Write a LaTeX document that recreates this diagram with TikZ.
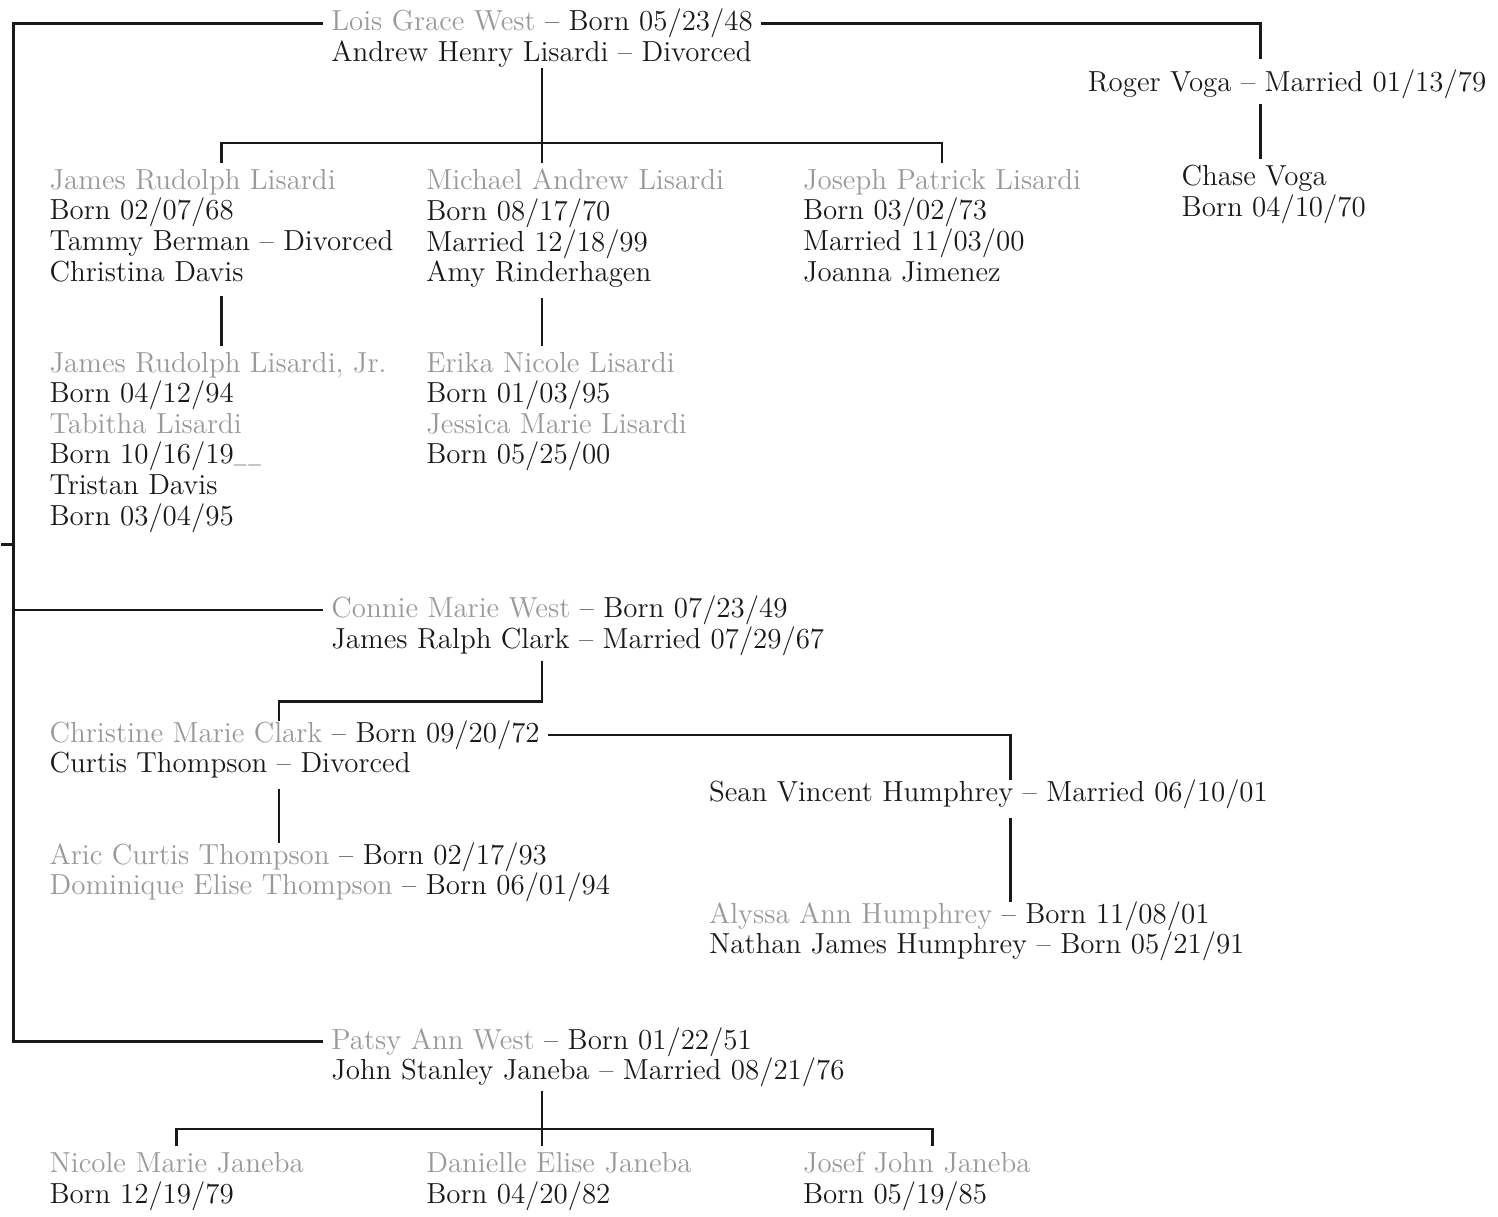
\documentclass[tikz,border=0pt]{standalone}
\usepackage{tikz}
\definecolor{namegray}{gray}{0.6}
\definecolor{ink}{gray}{0.1}
\newcommand{\nm}[1]{\textcolor{namegray}{#1}}

\begin{document}
\begin{tikzpicture}[x=0.5pt,y=-0.5pt,
  person/.style={anchor=base west,inner xsep=4pt,inner ysep=0pt,text height=10.5pt,text depth=3pt,text=ink,font=\fontsize{14.5}{15.3}\selectfont},
  family/.style={anchor=north west,align=left,inner xsep=4pt,inner ysep=3pt,text=ink,font=\fontsize{14.5}{15.3}\selectfont},
  link/.style={draw=ink,line width=1.3pt}]
\fill[white] (0,0) rectangle (1498,1215);
\coordinate (spinex) at (12,0);
\coordinate (midx) at (541,0);
\coordinate (vogax) at (1260,0);
\coordinate (clarkx) at (278,0);
\coordinate (seanx) at (1010,0);
\coordinate (tick) at (0,545);
\coordinate (lbar) at (541,143);
\coordinate (cbar) at (0,702);
\coordinate (pbar) at (541,1130);
% Lisardi and Voga
\node[person] (lois) at (322,31) {\nm{Lois Grace West} \textendash{} Born 05/23/48};
\node[person] (andrew) at (322,62) {Andrew Henry Lisardi \textendash{} Divorced};
\node[person] (roger) at (1079,92) {Roger Voga \textendash{} Married 01/13/79};
\node[family] (james) at (40,163) {\nm{James Rudolph Lisardi}\\Born 02/07/68\\Tammy Berman \textendash{} Divorced\\Christina Davis};
\node[family] (michael) at (417,163) {\nm{Michael Andrew Lisardi}\\Born 08/17/70\\Married 12/18/99\\Amy Rinderhagen};
\node[family] (joseph) at (794,163) {\nm{Joseph Patrick Lisardi}\\Born 03/02/73\\Married 11/03/00\\Joanna Jimenez};
\node[family] (chase) at (1173,159) {Chase Voga\\Born 04/10/70};
\node[family] (jr) at (40,346) {\nm{James Rudolph Lisardi, Jr.}\\Born 04/12/94\\\nm{Tabitha Lisardi}\\Born 10/16/19{\fontsize{8}{8}\selectfont\_\kern1pt\_}\\Tristan Davis\\Born 03/04/95};
\node[family] (erika) at (417,346) {\nm{Erika Nicole Lisardi}\\Born 01/03/95\\\nm{Jessica Marie Lisardi}\\Born 05/25/00};
% Clark, Thompson and Humphrey
\node[person] (connie) at (322,618) {\nm{Connie Marie West} \textendash{} Born 07/23/49};
\node[person] (jclark) at (322,649) {James Ralph Clark \textendash{} Married 07/29/67};
\node[person] (christine) at (40,743) {\nm{Christine Marie Clark} \textendash{} Born 09/20/72};
\node[person] (curtis) at (40,773) {Curtis Thompson \textendash{} Divorced};
\node[person] (aric) at (40,865) {\nm{Aric Curtis Thompson} \textendash{} Born 02/17/93};
\node[person] (dominique) at (40,895) {\nm{Dominique Elise Thompson} \textendash{} Born 06/01/94};
\node[person] (sean) at (700,802) {Sean Vincent Humphrey \textendash{} Married 06/10/01};
\node[person] (alyssa) at (700,924) {\nm{Alyssa Ann Humphrey} \textendash{} Born 11/08/01};
\node[person] (nathan) at (700,954) {Nathan James Humphrey \textendash{} Born 05/21/91};
% Janeba
\node[person] (patsy) at (322,1050) {\nm{Patsy Ann West} \textendash{} Born 01/22/51};
\node[person] (john) at (322,1080) {John Stanley Janeba \textendash{} Married 08/21/76};
\node[family] (nicole) at (40,1147) {\nm{Nicole Marie Janeba}\\Born 12/19/79};
\node[family] (danielle) at (417,1147) {\nm{Danielle Elise Janeba}\\Born 04/20/82};
\node[family] (josef) at (794,1147) {\nm{Josef John Janeba}\\Born 05/19/85};
% connectors
\draw[link] (lois.west) -- (lois.west -| spinex) -- (patsy.west -| spinex) -- (patsy.west);
\draw[link] (tick) -- (tick -| spinex);
\draw[link] (connie.west -| spinex) -- (connie.west);
\draw[link,shorten >=6pt] (lois.east) -| (roger.north -| vogax);
\draw[link,shorten <=3pt] (roger.south -| vogax) -- (chase.north -| vogax);
\draw[link] (andrew.south -| midx) -- (michael.north -| midx);
\draw[link] (james.north) |- (lbar) -| (joseph.north);
\draw[link,shorten <=4pt] (james.south) -- (jr.north -| james.south);
\draw[link,shorten <=2pt] (michael.south -| midx) -- (erika.north -| midx);
\draw[link,shorten <=3pt] (jclark.south -| midx) |- (cbar -| clarkx) -- (christine.north -| clarkx);
\draw[link] (christine.east) -| (sean.north -| seanx);
\draw[link,shorten <=5pt] (sean.south -| seanx) -- (alyssa.north -| seanx);
\draw[link,shorten <=5pt] (curtis.south -| clarkx) -- (aric.north -| clarkx);
\draw[link,shorten <=3pt] (john.south -| midx) -- (danielle.north -| midx);
\draw[link] (nicole.north) |- (pbar) -| ([xshift=8pt]josef.north);
\end{tikzpicture}
\end{document}
